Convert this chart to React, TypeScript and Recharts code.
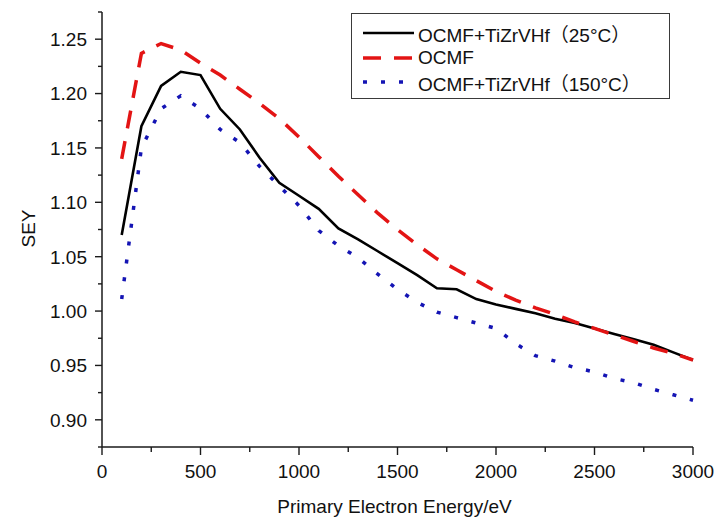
import React from 'react';
import { LineChart, Line, XAxis, YAxis, Legend, Label } from 'recharts';

// primary electron energy, eV
const energy = [
  100, 200, 300, 400, 500, 600, 700, 800, 900, 1000,
  1100, 1200, 1300, 1400, 1500, 1600, 1700, 1800, 1900, 2000,
  2100, 2200, 2300, 2400, 2500, 2600, 2700, 2800, 2900, 3000,
];

const sey25 = [
  1.070, 1.170, 1.207, 1.220, 1.217, 1.186, 1.167, 1.141, 1.118, 1.106,
  1.094, 1.076, 1.066, 1.055, 1.044, 1.033, 1.021, 1.020, 1.011, 1.006,
  1.002, 0.998, 0.993, 0.989, 0.984, 0.979, 0.974, 0.969, 0.962, 0.955,
];

const seyOcmf = [
  1.140, 1.237, 1.246, 1.240, 1.228, 1.217, 1.204, 1.191, 1.177, 1.160,
  1.142, 1.124, 1.107, 1.090, 1.075, 1.061, 1.048, 1.038, 1.028, 1.018,
  1.010, 1.003, 0.997, 0.990, 0.984, 0.978, 0.972, 0.966, 0.961, 0.955,
];

const sey150 = [
  1.011, 1.150, 1.186, 1.198, 1.186, 1.167, 1.155, 1.133, 1.115, 1.097,
  1.074, 1.060, 1.049, 1.034, 1.020, 1.008, 0.999, 0.994, 0.989, 0.984,
  0.970, 0.959, 0.954, 0.948, 0.944, 0.938, 0.934, 0.928, 0.923, 0.918,
];

const yTicks = [
  0.875, 0.9, 0.925, 0.95, 0.975, 1.0, 1.025, 1.05, 1.075,
  1.1, 1.125, 1.15, 1.175, 1.2, 1.225, 1.25, 1.275,
];
const xTicks = [
  0, 250, 500, 750, 1000, 1250, 1500, 1750, 2000, 2250, 2500, 2750, 3000,
];

const series = [
  { key: 'a', name: 'OCMF+TiZrVHf（25°C）', color: '#000000', width: 2.6, dash: undefined },
  { key: 'b', name: 'OCMF', color: '#e31414', width: 3.5, dash: '18 13' },
  { key: 'c', name: 'OCMF+TiZrVHf（150°C）', color: '#1414b4', width: 3.5, dash: '4 14' },
];

const rows = energy.map((e, i) => ({ energy: e, a: sey25[i], b: seyOcmf[i], c: sey150[i] }));

const FONT = '"Liberation Sans", Arial, "Noto Sans CJK SC", sans-serif';
const AXIS = '#1a1a1a';

const YTick = (props: any) => {
  const { x, y, payload } = props;
  const axisX = x + 12;
  const v = payload.value;
  const major = Math.abs(v * 20 - Math.round(v * 20)) < 1e-6;
  return (
    <g>
      <line x1={axisX - (major ? 7 : 4)} x2={axisX} y1={y} y2={y} stroke={AXIS} strokeWidth={1.4} />
      {major && (
        <text x={axisX - 15} y={y} dy="0.36em" textAnchor="end" fontSize={19} fontFamily={FONT} fill="#111">
          {v.toFixed(2)}
        </text>
      )}
    </g>
  );
};

const XTick = (props: any) => {
  const { x, y, payload } = props;
  const axisY = y - 12;
  const v = payload.value;
  const major = v % 500 === 0;
  return (
    <g>
      <line x1={x} x2={x} y1={axisY} y2={axisY + (major ? 8 : 5)} stroke={AXIS} strokeWidth={1.4} />
      {major && (
        <text x={x} y={axisY + 31} textAnchor="middle" fontSize={19} fontFamily={FONT} fill="#111">
          {v}
        </text>
      )}
    </g>
  );
};

const renderLegend = () => (
  <div
    style={{
      width: 319,
      height: 86,
      boxSizing: 'border-box',
      border: '1px solid #3a3a3a',
      background: '#fff',
      paddingTop: 7,
      fontFamily: FONT,
      fontSize: 19,
      color: '#111',
    }}
  >
    {series.map((s) => (
      <div key={s.key} style={{ display: 'flex', alignItems: 'center', height: 24.5 }}>
        <svg width={66} height={12} style={{ flex: 'none' }}>
          <line
            x1={11}
            x2={62}
            y1={6}
            y2={6}
            stroke={s.color}
            strokeWidth={s.width}
            strokeDasharray={s.dash}
          />
        </svg>
        <span style={{ whiteSpace: 'nowrap' }}>{s.name}</span>
      </div>
    ))}
  </div>
);

export default function App() {
  return (
    <div style={{ position: 'absolute', left: 0, top: 0, width: 717, height: 519, background: '#fff' }}>
      <LineChart width={717} height={519} data={rows} margin={{ top: 12, right: 24, left: 0, bottom: 0 }}>
        <XAxis
          dataKey="energy"
          type="number"
          domain={[0, 3000]}
          ticks={xTicks}
          interval={0}
          height={72}
          tickSize={8}
          tickMargin={4}
          tickLine={false}
          tick={<XTick />}
          axisLine={{ stroke: AXIS, strokeWidth: 1.5 }}
        >
          <Label
            content={(p: any) => {
              const vb = p.viewBox || {};
              return (
                <text
                  x={(vb.x ?? 102) + (vb.width ?? 591) / 2 - 3}
                  y={(vb.y ?? 447) + 66}
                  textAnchor="middle"
                  fontSize={19}
                  fontFamily={FONT}
                  fill="#111"
                >
                  Primary Electron Energy/eV
                </text>
              );
            }}
          />
        </XAxis>
        <YAxis
          type="number"
          domain={[0.875, 1.275]}
          ticks={yTicks}
          interval={0}
          width={102}
          tickSize={8}
          tickMargin={4}
          tickLine={false}
          tick={<YTick />}
          allowDataOverflow
          axisLine={{ stroke: AXIS, strokeWidth: 1.5 }}
        >
          <Label
            content={(p: any) => {
              const vb = p.viewBox || {};
              const cx = (vb.x ?? 0) + 28;
              const cy = (vb.y ?? 12) + (vb.height ?? 435) / 2 - 1;
              return (
                <text
                  x={cx}
                  y={cy}
                  transform={`rotate(-90, ${cx}, ${cy})`}
                  textAnchor="middle"
                  dominantBaseline="central"
                  fontSize={19}
                  fontFamily={FONT}
                  fill="#111"
                >
                  SEY
                </text>
              );
            }}
          />
        </YAxis>
        <Legend
          layout="vertical"
          align="center"
          verticalAlign="middle"
          content={renderLegend}
          wrapperStyle={{ left: 351, top: 13, width: 319, height: 86 }}
        />
        {series.map((s) => (
          <Line
            key={s.key}
            dataKey={s.key}
            name={s.name}
            type="linear"
            stroke={s.color}
            strokeWidth={s.width}
            strokeDasharray={s.dash}
            dot={false}
            activeDot={false}
            isAnimationActive={false}
          />
        ))}
      </LineChart>
    </div>
  );
}
